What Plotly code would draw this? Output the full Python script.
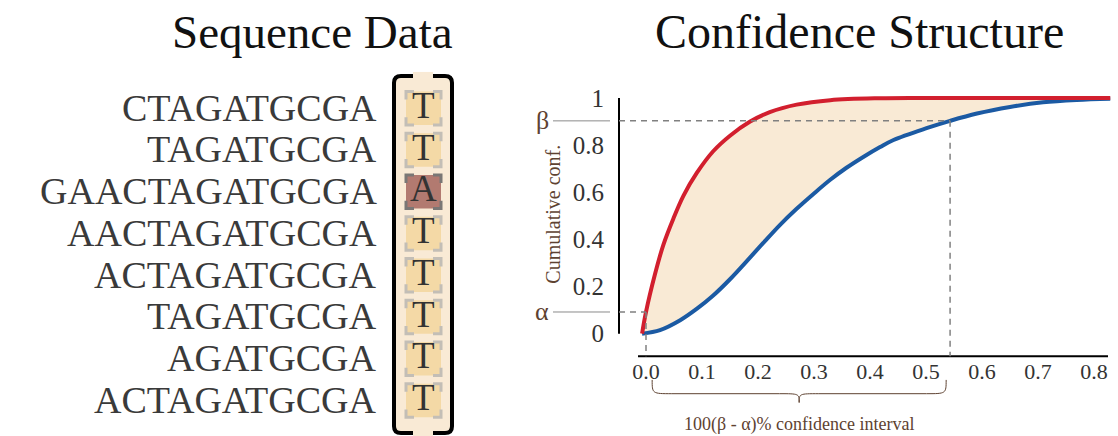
import plotly.graph_objects as go

# ---------------- data ----------------
sequences = [
    "CTAGATGCGA",
    "TAGATGCGA",
    "GAACTAGATGCGA",
    "AACTAGATGCGA",
    "ACTAGATGCGA",
    "TAGATGCGA",
    "AGATGCGA",
    "ACTAGATGCGA",
]
column_bases = ["T", "T", "A", "T", "T", "T", "T", "T"]
consensus_base = "T"

# upper (red) and lower (blue) cumulative confidence curves
upper_x = [-0.007, 0.0, 0.016, 0.031, 0.049, 0.067, 0.091, 0.120, 0.150, 0.186,
           0.221, 0.269, 0.329, 0.418, 0.50, 0.60, 0.70, 0.829]
upper_y = [0.0, 0.092, 0.252, 0.377, 0.489, 0.586, 0.683, 0.774, 0.840, 0.900,
           0.940, 0.972, 0.991, 0.999, 1.0, 1.0, 1.0, 1.0]
lower_x = [-0.007, 0.025, 0.061, 0.091, 0.120, 0.150, 0.180, 0.209, 0.239, 0.269,
           0.299, 0.329, 0.358, 0.388, 0.418, 0.442, 0.501, 0.543, 0.591, 0.650,
           0.709, 0.769, 0.829]
lower_y = [0.0, 0.015, 0.057, 0.106, 0.162, 0.231, 0.308, 0.384, 0.461, 0.530,
           0.593, 0.653, 0.704, 0.750, 0.792, 0.822, 0.872, 0.903, 0.934, 0.962,
           0.982, 0.992, 0.997]

alpha = 0.092
beta = 0.903
ci_low = 0.0
ci_high = 0.543

x_ticks = [0.0, 0.1, 0.2, 0.3, 0.4, 0.5, 0.6, 0.7, 0.8]
y_ticks = [0.0, 0.2, 0.4, 0.6, 0.8, 1.0]
y_tick_text = ["0", "0.2", "0.4", "0.6", "0.8", "1"]

# ---------------- styling ----------------
W, H = 1118, 436
SERIF = "Liberation Serif"
RED = "#d21f2e"
BLUE = "#1b5aa3"
CREAM = "#f9ead5"
TILE = "#f4d9a6"
TILE_HI = "#b27a70"
BRACKET = "#c3beb6"
BRACKET_HI = "#7a7775"
DASH = "#808080"
BROWN = "#5e4231"
INK = "#333333"


def px_x(px):
    return px / W


def px_y(py):
    return 1 - py / H


# main plot area in pixels
PL, PR, PT, PB = 612, 1114, 86, 360
X0PX, XSCALE = 646.0, 560.0      # pixel of x=0, pixels per unit
Y0PX, YSCALE = 332.0, 239.5      # pixel of y=0, pixels per unit


def dx(px):
    return (px - X0PX) / XSCALE


def dy(py):
    return (Y0PX - py) / YSCALE


# left panel: x2 measured in pixels, y2 = row index
ROW0, ROWSTEP = 103.0, 42.43


def row(py):
    return (py - ROW0) / ROWSTEP


fig = go.Figure()

fig.add_trace(go.Scatter(
    x=lower_x, y=lower_y, mode="lines", line=dict(color=BLUE, width=4, shape="spline"),
    hoverinfo="skip", showlegend=False))
fig.add_trace(go.Scatter(
    x=upper_x, y=upper_y, mode="lines", line=dict(color=RED, width=4, shape="spline"),
    fill="tonexty", fillcolor=CREAM, hoverinfo="skip", showlegend=False))

shapes = []
annotations = []

# axis lines, detached from the curves
x_axis_y = dy(355)
y_axis_x = dx(619)
shapes.append(dict(type="line", xref="x", yref="y", x0=y_axis_x, x1=y_axis_x, y0=0, y1=1,
                   line=dict(color="black", width=2)))
shapes.append(dict(type="line", xref="x", yref="y", x0=dx(638), x1=dx(1108),
                   y0=x_axis_y, y1=x_axis_y, line=dict(color="black", width=2)))

# dashed guides for alpha / beta and the interval bounds
dash_line = dict(color=DASH, width=1.5, dash="6px,5px")
shapes.append(dict(type="line", xref="x", yref="y", x0=y_axis_x, x1=ci_high, y0=beta, y1=beta,
                   line=dash_line))
shapes.append(dict(type="line", xref="x", yref="y", x0=y_axis_x, x1=ci_low, y0=alpha, y1=alpha,
                   line=dash_line))
shapes.append(dict(type="line", xref="x", yref="y", x0=ci_low, x1=ci_low, y0=alpha, y1=x_axis_y,
                   line=dash_line))
shapes.append(dict(type="line", xref="x", yref="y", x0=ci_high, x1=ci_high, y0=beta, y1=x_axis_y,
                   line=dash_line))

# short solid leaders next to the alpha / beta symbols
for level, sym in ((beta, "β"), (alpha, "α")):
    shapes.append(dict(type="line", xref="paper", yref="y", x0=px_x(553), x1=px_x(610),
                       y0=level, y1=level, line=dict(color="#8a8a8a", width=1)))
    annotations.append(dict(xref="paper", yref="y", x=px_x(542), y=level, text=sym,
                            showarrow=False, xanchor="center", yanchor="middle",
                            font=dict(family=SERIF, size=26, color=BROWN)))

# brace under the interval
bx0, bx1 = ci_low + 0.011, ci_high - 0.007
bxm = (bx0 + bx1) / 2
yt, ym, yb = px_y(379), px_y(393), px_y(402)
k = 0.035
brace = (f"M {bx0},{yt} C {bx0},{ym} {bx0},{ym} {bx0 + k},{ym} "
         f"L {bxm - k},{ym} C {bxm},{ym} {bxm},{ym} {bxm},{yb} "
         f"C {bxm},{ym} {bxm},{ym} {bxm + k},{ym} "
         f"L {bx1 - k},{ym} C {bx1},{ym} {bx1},{ym} {bx1},{yt}")
shapes.append(dict(type="path", xref="x", yref="paper", path=brace,
                   line=dict(color=BROWN, width=1)))
annotations.append(dict(xref="x", yref="paper", x=bxm, y=px_y(424),
                        text="100(β - α)% confidence interval", showarrow=False,
                        xanchor="center", yanchor="middle",
                        font=dict(family=SERIF, size=18, color=BROWN)))

annotations.append(dict(xref="paper", yref="y", x=px_x(553), y=0.505, text="Cumulative conf.",
                        textangle=-90, showarrow=False, xanchor="center", yanchor="middle",
                        font=dict(family=SERIF, size=20, color=BROWN)))

# titles
annotations.append(dict(xref="paper", yref="paper", x=px_x(455), y=px_y(25), text="Sequence Data",
                        showarrow=False, xanchor="right", yanchor="middle",
                        font=dict(family=SERIF, size=47, color="#111111")))
annotations.append(dict(xref="paper", yref="paper", x=px_x(859), y=px_y(25),
                        text="Confidence Structure", showarrow=False, xanchor="center",
                        yanchor="middle", font=dict(family=SERIF, size=48, color="#111111")))

# ---------------- left panel: reads and the aligned column ----------------
bx_l, bx_r = 394, 452
by_t, by_b = row(70), row(433)
rx, ry = 7, 7 / ROWSTEP
box = (f"M {bx_l + rx},{by_t} L {bx_r - rx},{by_t} Q {bx_r},{by_t} {bx_r},{by_t + ry} "
       f"L {bx_r},{by_b - ry} Q {bx_r},{by_b} {bx_r - rx},{by_b} "
       f"L {bx_l + rx},{by_b} Q {bx_l},{by_b} {bx_l},{by_b - ry} "
       f"L {bx_l},{by_t + ry} Q {bx_l},{by_t} {bx_l + rx},{by_t} Z")
shapes.append(dict(type="path", xref="x2", yref="y2", path=box, fillcolor=CREAM,
                   line=dict(color="black", width=4)))
# openings in the frame at top and bottom
for yc in (70, 433):
    shapes.append(dict(type="rect", xref="x2", yref="y2", x0=413, x1=433,
                       y0=row(yc - 4), y1=row(yc + 4), fillcolor=CREAM, line=dict(width=0)))

tx0, tx1 = 406, 441
half = 17 / ROWSTEP
arm_x, arm_y = 8, 8 / ROWSTEP
for i, (seq, base) in enumerate(zip(sequences, column_bases)):
    mismatch = base != consensus_base
    y0, y1 = i - half, i + half
    shapes.append(dict(type="rect", xref="x2", yref="y2", x0=tx0, x1=tx1, y0=y0, y1=y1,
                       fillcolor=TILE_HI if mismatch else TILE, line=dict(width=0)))
    corners = (f"M {tx0},{y0 + arm_y} L {tx0},{y0} L {tx0 + arm_x},{y0} "
               f"M {tx1 - arm_x},{y0} L {tx1},{y0} L {tx1},{y0 + arm_y} "
               f"M {tx1},{y1 - arm_y} L {tx1},{y1} L {tx1 - arm_x},{y1} "
               f"M {tx0 + arm_x},{y1} L {tx0},{y1} L {tx0},{y1 - arm_y}")
    shapes.append(dict(type="path", xref="x2", yref="y2", path=corners,
                       line=dict(color=BRACKET_HI if mismatch else BRACKET, width=3)))
    annotations.append(dict(xref="x2", yref="y2", x=(tx0 + tx1) / 2, y=i - 0.07, text=base,
                            showarrow=False, xanchor="center", yanchor="middle",
                            font=dict(family=SERIF, size=37, color=INK)))
    annotations.append(dict(xref="x2", yref="y2", x=379, y=i - 0.02, text=seq,
                            showarrow=False, xanchor="right", yanchor="middle",
                            font=dict(family=SERIF, size=38, color="#3a3a3a")))

hidden = dict(visible=False, showgrid=False, zeroline=False, fixedrange=True)

fig.update_layout(
    width=W, height=H,
    margin=dict(l=0, r=0, t=0, b=0),
    paper_bgcolor="white", plot_bgcolor="rgba(0,0,0,0)",
    showlegend=False,
    xaxis=dict(domain=[px_x(PL), px_x(PR)], range=[dx(PL), dx(PR)],
               tickvals=x_ticks, ticktext=[f"{v:.1f}" for v in x_ticks],
               ticks="", showline=False, showgrid=False, zeroline=False,
               ticklabelstandoff=-5,
               tickfont=dict(family=SERIF, size=22, color=INK)),
    yaxis=dict(domain=[px_y(PB), px_y(PT)], range=[dy(PB), dy(PT)],
               tickvals=y_ticks, ticktext=y_tick_text,
               ticks="", showline=False, showgrid=False, zeroline=False,
               ticklabelstandoff=7,
               tickfont=dict(family=SERIF, size=25, color=INK)),
    xaxis2=dict(domain=[0, px_x(460)], range=[0, 460], anchor="y2", **hidden),
    yaxis2=dict(domain=[0, px_y(60)], range=[row(436), row(60)], anchor="x2", **hidden),
    shapes=shapes,
    annotations=annotations,
)

fig.write_html("out.html")
